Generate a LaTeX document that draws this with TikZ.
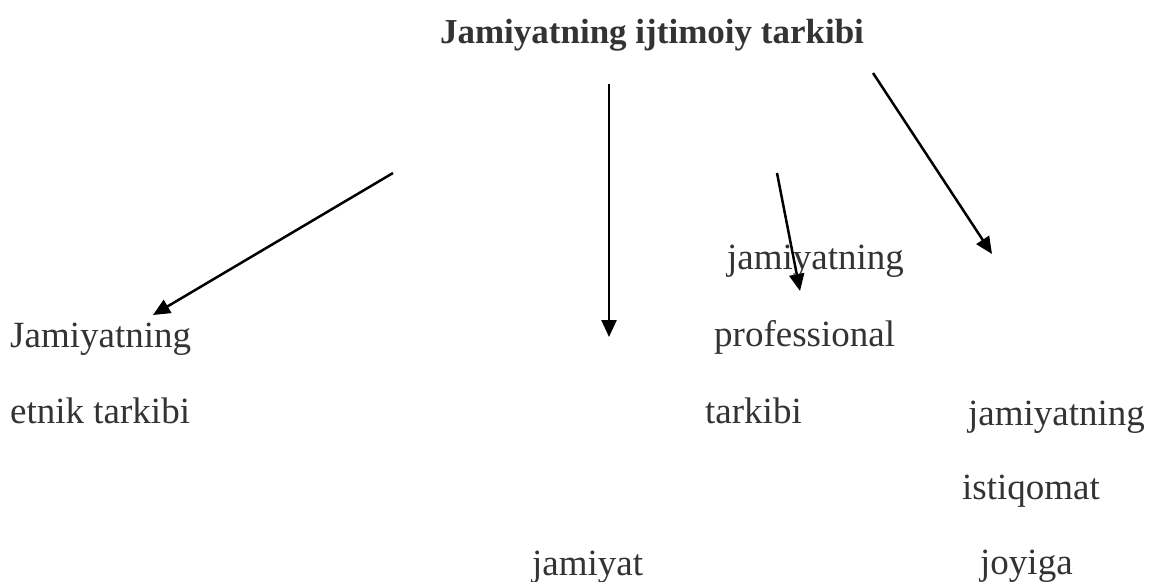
\documentclass[tikz,border=0pt]{standalone}
\usepackage{fontspec}
\setmainfont{Liberation Serif}
\usetikzlibrary{arrows.meta}
\definecolor{txt}{HTML}{333333}
\begin{document}
\begin{tikzpicture}[x=1pt,y=-1pt,
  lbl/.style={anchor=base west,inner sep=0pt,text=txt,font=\fontsize{37}{44}\selectfont},
  ttl/.style={anchor=base,inner sep=0pt,text=txt,font=\fontsize{35}{42}\selectfont\bfseries},
  arr/.style={line width=2.5pt,-{Triangle[length=17pt,width=15pt]}}]
\useasboundingbox (0,0) rectangle (1151,581);
\node[ttl] (title) at (652,43) {Jamiyatning ijtimoiy tarkibi};
\node[lbl] (e1) at (10,347) {Jamiyatning};
\node[lbl] (e2) at (10,423) {etnik tarkibi};
\node[lbl] (p1) at (727,269) {jamiyatning};
\node[lbl] (p2) at (714,346) {professional};
\node[lbl] (p3) at (705,423) {tarkibi};
\node[lbl] (r1) at (968,425) {jamiyatning};
\node[lbl] (r2) at (962,499) {istiqomat};
\node[lbl] (r3) at (980,574) {joyiga};
\node[lbl] (j1) at (532,575) {jamiyat};
\coordinate (a1s) at (393,173);
\coordinate (a1e) at (153,315);
\coordinate (a2s) at (609,84);
\coordinate (a2e) at (609,337);
\coordinate (a3s) at (777,173);
\coordinate (a3e) at (800,291);
\coordinate (a4s) at (873,73);
\coordinate (a4e) at (992,254);
\draw[arr] (a1s) -- (a1e);
\draw[arr] (a2s) -- (a2e);
\draw[arr] (a3s) -- (a3e);
\draw[arr] (a4s) -- (a4e);
\end{tikzpicture}
\end{document}
